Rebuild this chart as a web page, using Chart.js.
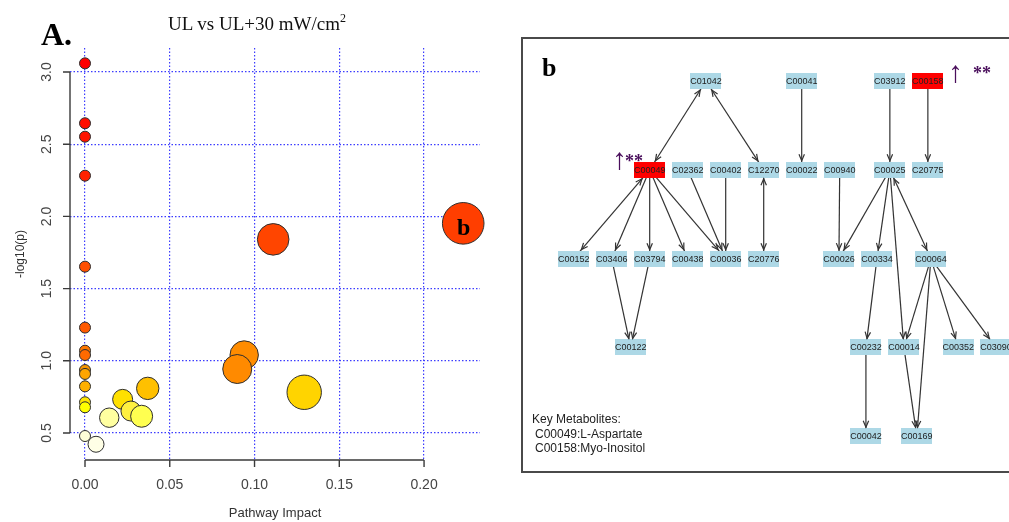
<!DOCTYPE html>
<html><head><meta charset="utf-8">
<script src="https://cdn.jsdelivr.net/npm/chart.js@4.4.1/dist/chart.umd.min.js"></script>
<style>
html,body{margin:0;padding:0;background:#fff;width:1009px;height:522px;overflow:hidden;}
body{position:relative;}
#cA{position:absolute;left:0;top:0;}
#boxB{position:absolute;left:521px;top:37px;width:560px;height:432px;border:2px solid #4a4a4a;overflow:hidden;}
#cB{position:absolute;left:0;top:0;}
.t{position:absolute;white-space:nowrap;line-height:1;}
.serif{font-family:"Liberation Serif","Times New Roman",serif;}
.sans{font-family:"Liberation Sans",Arial,sans-serif;}
.purple{color:#4a0f5c;}
</style></head><body>
<canvas id="cA" width="510" height="522"></canvas>
<div class="t serif" style="left:168px;top:14px;font-size:19px;color:#111;">UL vs UL+30 mW/cm<sup style="font-size:12px;vertical-align:8px;line-height:0">2</sup></div>
<div class="t serif" style="left:41px;top:18px;font-size:32px;font-weight:bold;color:#000;">A.</div>
<div class="t serif" style="left:457px;top:215px;font-size:24px;font-weight:bold;color:#000;">b</div>
<div id="boxB">
  <canvas id="cB" width="486" height="432"></canvas>
  <div class="t serif" style="left:19px;top:16px;font-size:26px;font-weight:bold;color:#000;">b</div>
  <div class="t serif purple" style="left:89px;top:105px;font-size:30px;">↑</div>
  <div class="t serif purple" style="left:102px;top:113px;font-size:18px;font-weight:bold;">**</div>
  <div class="t serif purple" style="left:425px;top:18px;font-size:30px;">↑</div>
  <div class="t serif purple" style="left:450px;top:25px;font-size:18px;font-weight:bold;">**</div>
  <div class="t sans" style="left:9px;top:374px;font-size:12px;color:#222;">Key Metabolites:</div>
  <div class="t sans" style="left:12px;top:389px;font-size:12px;color:#222;">C00049:L-Aspartate</div>
  <div class="t sans" style="left:12px;top:403px;font-size:12px;color:#222;">C00158:Myo-Inositol</div>
</div>
<script>
// ---------- Panel A data ----------
const pathwayImpact = [0,0,0,0,0,0,0,0,0,0,0,0,0,0,
  0.2231,0.111,0.0939,0.0898,0.1293,0.037,0.0222,0.0271,0.0334,0.0143,0.0065];
const negLog10P = [3.06,2.645,2.552,2.282,1.652,1.23,1.07,1.04,0.936,0.909,0.823,0.713,0.678,0.479,
  1.952,1.841,1.040,0.943,0.782,0.809,0.733,0.652,0.616,0.606,0.422];
const bubbleRadius = [5.5,5.5,5.5,5.5,5.5,5.5,5.5,5.5,5.5,5.5,5.5,5.5,5.5,5.5,
  20.8,15.8,14.2,14.5,17.2,11.2,10,10,11,9.7,8];
const bubbleColor = ['#FF0000','#FF0D00','#FF1500','#FF2200','#FF5000','#FF5A00','#FF7800','#FF6A00','#F59400','#FFA500','#FFB000','#FFE600','#FFFF00','#FFFFD8',
  '#FF3E00','#FF4500','#FF8C00','#FF8A00','#FFD400','#FFC000','#FFE000','#FFF040','#FFFF50','#FFFFA0','#FFFFE6'];
const xTickValues = [0,0.05,0.10,0.15,0.20];
const yTickValues = [0.5,1.0,1.5,2.0,2.5,3.0];

// ---------- Panel b data ----------
const nodeNames = ['C01042','C00041','C03912','C00158',
  'C00049','C02362','C00402','C12270','C00022','C00940','C00025','C20775',
  'C00152','C03406','C03794','C00438','C00036','C20776','C00026','C00334','C00064',
  'C00122','C00232','C00014','C00352','C03090',
  'C00042','C00169'];
const nodeCol = [1.48,4,6.32,7.32,
  0,1,2,3,4,5,6.32,7.32,
  -2,-1,0,1,2,3,4.98,5.98,7.4,
  -0.5,5.69,6.69,8.12,9.11,
  5.69,7.03];
const nodeRow = [0,0,0,0,
  1,1,1,1,1,1,1,1,
  2,2,2,2,2,2,2,2,2,
  3,3,3,3,3,
  4,4];
const keyMetabolites = ['C00049','C00158'];
const edgeFrom = ['C01042','C01042','C00041','C03912','C00158','C00049','C00049','C00049','C00049','C00049','C02362','C00402','C12270',
  'C00940','C00025','C00025','C00025','C00025','C03406','C03794','C00334','C00064','C00064','C00064','C00064','C00232','C00014'];
const edgeTo = ['C00049','C12270','C00022','C00025','C20775','C00152','C03406','C03794','C00438','C00036','C00036','C00036','C20776',
  'C00026','C00026','C00334','C00014','C00064','C00122','C00122','C00232','C00014','C00169','C00352','C03090','C00042','C00169'];
const edgeBoth = [1,1,0,0,0,1,0,0,0,0,0,0,1,
  0,0,0,0,1,0,0,0,0,0,0,0,0,0];

Chart.defaults.font.family = '"Liberation Sans", Arial, sans-serif';

// ---------- Panel A ----------
const rAxes = {
  id: 'rAxes',
  afterDraw(chart) {
    const {ctx, chartArea, scales: {x, y}} = chart;
    ctx.save();
    ctx.strokeStyle = '#3a3a3a';
    ctx.lineWidth = 1.4;
    ctx.beginPath();
    const yb = chartArea.bottom, xl = chartArea.left;
    ctx.moveTo(x.getPixelForValue(xTickValues[0]), yb);
    ctx.lineTo(x.getPixelForValue(xTickValues[xTickValues.length - 1]), yb);
    xTickValues.forEach(v => { const p = x.getPixelForValue(v); ctx.moveTo(p, yb); ctx.lineTo(p, yb + 7); });
    ctx.moveTo(xl, y.getPixelForValue(yTickValues[0]));
    ctx.lineTo(xl, y.getPixelForValue(yTickValues[yTickValues.length - 1]));
    yTickValues.forEach(v => { const p = y.getPixelForValue(v); ctx.moveTo(xl, p); ctx.lineTo(xl - 7, p); });
    ctx.stroke();
    ctx.fillStyle = '#444';
    ctx.font = '14px "Liberation Sans", Arial, sans-serif';
    ctx.textAlign = 'center';
    ctx.textBaseline = 'middle';
    yTickValues.forEach(v => {
      const p = y.getPixelForValue(v);
      ctx.save(); ctx.translate(xl - 22.5, p); ctx.rotate(-Math.PI / 2);
      ctx.fillText(v.toFixed(1), 0, 0); ctx.restore();
    });
    ctx.restore();
  }
};

new Chart(document.getElementById('cA'), {
  type: 'bubble',
  data: {
    datasets: [{
      data: pathwayImpact.map((v, i) => ({x: v, y: negLog10P[i], r: bubbleRadius[i]})),
      backgroundColor: bubbleColor,
      borderColor: '#2e2e2e',
      borderWidth: 1,
      clip: false
    }]
  },
  options: {
    responsive: false, animation: false, devicePixelRatio: 1, events: [],
    layout: {padding: {left: 0, top: 48, right: 30, bottom: 0}, autoPadding: false},
    plugins: {legend: {display: false}, tooltip: {enabled: false}},
    scales: {
      x: {
        type: 'linear', min: -0.00885, max: 0.2330,
        afterBuildTicks: s => { s.ticks = xTickValues.map(v => ({value: v})); },
        afterFit: s => { s.height = 62; },
        grid: {color: '#3c3cff', lineWidth: 1.2, drawTicks: false},
        border: {display: false, dash: [1.5, 2]},
        ticks: {color: '#444', font: {size: 14}, padding: 17, callback: v => Number(v).toFixed(2), maxRotation: 0},
        title: {display: true, text: 'Pathway Impact', color: '#333', font: {size: 13}, padding: {top: 0, bottom: 1}}
      },
      y: {
        type: 'linear', min: 0.3130, max: 3.1662,
        afterBuildTicks: s => { s.ticks = yTickValues.map(v => ({value: v})); },
        afterFit: s => { s.width = 70; },
        grid: {color: '#3c3cff', lineWidth: 1.2, drawTicks: false},
        border: {display: false, dash: [1.5, 2]},
        ticks: {display: false},
        title: {display: true, text: '-log10(p)', color: '#333', font: {size: 12}, padding: {top: 13, bottom: 0}}
      }
    }
  },
  plugins: [rAxes]
});

// ---------- Panel b ----------
function boxStyle(color) {
  const c = document.createElement('canvas');
  c.width = 31; c.height = 16;
  const g = c.getContext('2d');
  g.fillStyle = color; g.fillRect(0, 0, 31, 16);
  return c;
}
const blueBox = boxStyle('#add8e6');
const redBox = boxStyle('#ff0000');
const idx = name => nodeNames.indexOf(name);
const nodePoint = i => ({x: nodeCol[i], y: nodeRow[i]});

const edgeDatasets = edgeFrom.map((f, k) => ({
  type: 'scatter', showLine: true,
  data: [nodePoint(idx(f)), nodePoint(idx(edgeTo[k]))],
  borderColor: '#333', borderWidth: 1.2, pointRadius: 0, order: 1
}));

const netLabels = {
  id: 'netLabels',
  afterDatasetsDraw(chart) {
    const {ctx} = chart;
    const nodeMeta = chart.getDatasetMeta(0);
    const pos = i => nodeMeta.data[i];
    const HW = 16, HH = 9;
    function head(sx, sy, tx, ty) {
      const dx = tx - sx, dy = ty - sy;
      const s = Math.min(dx ? HW / Math.abs(dx) : Infinity, dy ? HH / Math.abs(dy) : Infinity);
      const px = tx - dx * s, py = ty - dy * s;
      const a = Math.atan2(dy, dx), L = 7, w = 0.4;
      ctx.moveTo(px - L * Math.cos(a - w), py - L * Math.sin(a - w));
      ctx.lineTo(px, py);
      ctx.lineTo(px - L * Math.cos(a + w), py - L * Math.sin(a + w));
    }
    ctx.save();
    ctx.strokeStyle = '#333'; ctx.lineWidth = 1.2;
    ctx.beginPath();
    edgeFrom.forEach((f, k) => {
      const a = pos(idx(f)), b = pos(idx(edgeTo[k]));
      head(a.x, a.y, b.x, b.y);
      if (edgeBoth[k]) head(b.x, b.y, a.x, a.y);
    });
    ctx.stroke();
    ctx.fillStyle = '#222';
    ctx.font = '9px "Liberation Sans", Arial, sans-serif';
    ctx.textAlign = 'center'; ctx.textBaseline = 'middle';
    nodeNames.forEach((n, i) => { const p = pos(i); ctx.fillText(n, p.x, p.y + 0.5); });
    ctx.restore();
  }
};

new Chart(document.getElementById('cB'), {
  type: 'scatter',
  data: {
    datasets: [{
      data: nodeNames.map((n, i) => nodePoint(i)),
      pointStyle: nodeNames.map(n => keyMetabolites.includes(n) ? redBox : blueBox),
      pointRadius: 10, order: 0
    }].concat(edgeDatasets)
  },
  options: {
    responsive: false, animation: false, devicePixelRatio: 1, events: [],
    layout: {padding: 0, autoPadding: false},
    plugins: {legend: {display: false}, tooltip: {enabled: false}},
    scales: {
      x: {type: 'linear', display: false, min: -3.334, max: 9.455},
      y: {type: 'linear', display: false, reverse: true, min: -0.473, max: 4.392}
    }
  },
  plugins: [netLabels]
});
</script>
</body></html>
